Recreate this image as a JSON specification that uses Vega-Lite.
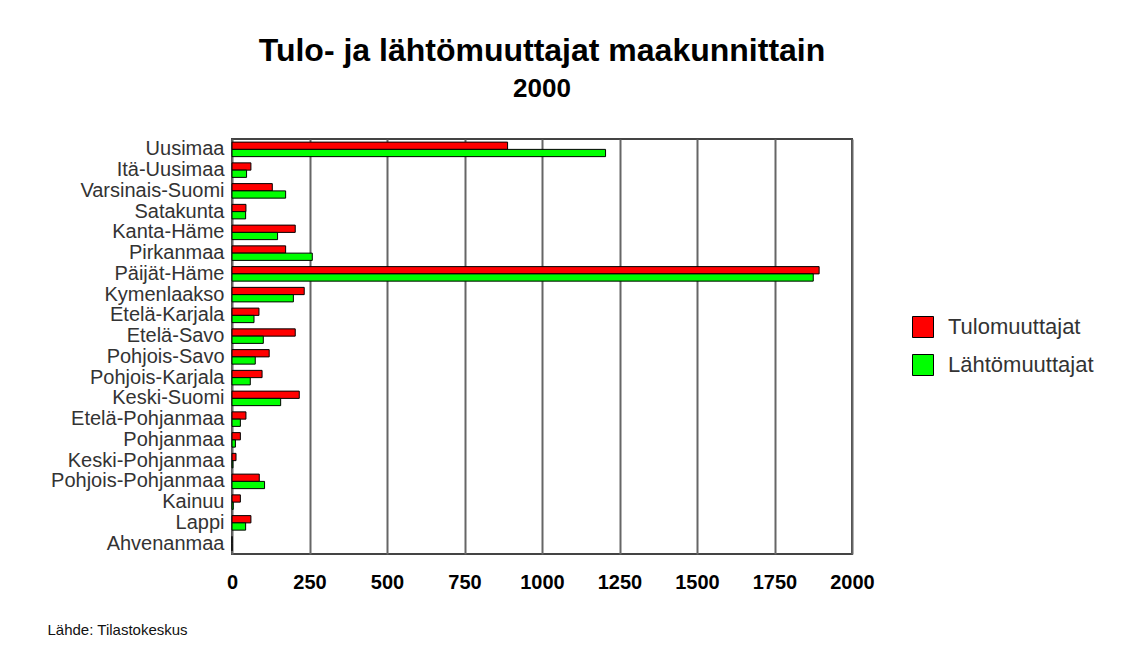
{
  "$schema": "https://vega.github.io/schema/vega-lite/v6.json",
  "width": 620,
  "height": 415,
  "autosize": "none",
  "padding": {"left": 232, "top": 139, "right": 293, "bottom": 99},
  "background": "white",
  "title": {
    "text": "Tulo- ja lähtömuuttajat maakunnittain",
    "subtitle": "2000",
    "anchor": "middle",
    "frame": "group",
    "font": "Liberation Sans",
    "fontSize": 32,
    "fontWeight": "bold",
    "color": "#000",
    "subtitleFont": "Liberation Sans",
    "subtitleFontSize": 26,
    "subtitleFontWeight": "bold",
    "subtitleColor": "#000",
    "subtitlePadding": 8,
    "offset": 36
  },
  "data": {
    "values": [
      {"region": "Uusimaa", "series": "Tulomuuttajat", "value": 889},
      {"region": "Uusimaa", "series": "Lähtömuuttajat", "value": 1205},
      {"region": "Itä-Uusimaa", "series": "Tulomuuttajat", "value": 61},
      {"region": "Itä-Uusimaa", "series": "Lähtömuuttajat", "value": 47},
      {"region": "Varsinais-Suomi", "series": "Tulomuuttajat", "value": 130},
      {"region": "Varsinais-Suomi", "series": "Lähtömuuttajat", "value": 173},
      {"region": "Satakunta", "series": "Tulomuuttajat", "value": 45},
      {"region": "Satakunta", "series": "Lähtömuuttajat", "value": 44},
      {"region": "Kanta-Häme", "series": "Tulomuuttajat", "value": 204},
      {"region": "Kanta-Häme", "series": "Lähtömuuttajat", "value": 147},
      {"region": "Pirkanmaa", "series": "Tulomuuttajat", "value": 173},
      {"region": "Pirkanmaa", "series": "Lähtömuuttajat", "value": 259},
      {"region": "Päijät-Häme", "series": "Tulomuuttajat", "value": 1894},
      {"region": "Päijät-Häme", "series": "Lähtömuuttajat", "value": 1875},
      {"region": "Kymenlaakso", "series": "Tulomuuttajat", "value": 233},
      {"region": "Kymenlaakso", "series": "Lähtömuuttajat", "value": 198},
      {"region": "Etelä-Karjala", "series": "Tulomuuttajat", "value": 87},
      {"region": "Etelä-Karjala", "series": "Lähtömuuttajat", "value": 71},
      {"region": "Etelä-Savo", "series": "Tulomuuttajat", "value": 204},
      {"region": "Etelä-Savo", "series": "Lähtömuuttajat", "value": 101},
      {"region": "Pohjois-Savo", "series": "Tulomuuttajat", "value": 120},
      {"region": "Pohjois-Savo", "series": "Lähtömuuttajat", "value": 75},
      {"region": "Pohjois-Karjala", "series": "Tulomuuttajat", "value": 97},
      {"region": "Pohjois-Karjala", "series": "Lähtömuuttajat", "value": 59},
      {"region": "Keski-Suomi", "series": "Tulomuuttajat", "value": 217},
      {"region": "Keski-Suomi", "series": "Lähtömuuttajat", "value": 157},
      {"region": "Etelä-Pohjanmaa", "series": "Tulomuuttajat", "value": 45},
      {"region": "Etelä-Pohjanmaa", "series": "Lähtömuuttajat", "value": 27},
      {"region": "Pohjanmaa", "series": "Tulomuuttajat", "value": 27},
      {"region": "Pohjanmaa", "series": "Lähtömuuttajat", "value": 11},
      {"region": "Keski-Pohjanmaa", "series": "Tulomuuttajat", "value": 13},
      {"region": "Keski-Pohjanmaa", "series": "Lähtömuuttajat", "value": 3},
      {"region": "Pohjois-Pohjanmaa", "series": "Tulomuuttajat", "value": 88},
      {"region": "Pohjois-Pohjanmaa", "series": "Lähtömuuttajat", "value": 105},
      {"region": "Kainuu", "series": "Tulomuuttajat", "value": 27},
      {"region": "Kainuu", "series": "Lähtömuuttajat", "value": 4},
      {"region": "Lappi", "series": "Tulomuuttajat", "value": 61},
      {"region": "Lappi", "series": "Lähtömuuttajat", "value": 44},
      {"region": "Ahvenanmaa", "series": "Tulomuuttajat", "value": 0},
      {"region": "Ahvenanmaa", "series": "Lähtömuuttajat", "value": 0}
    ]
  },
  "mark": {"type": "bar", "stroke": "#000", "strokeWidth": 1},
  "encoding": {
    "y": {
      "field": "region",
      "type": "nominal",
      "sort": null,
      "scale": {"paddingInner": 0.3, "paddingOuter": 0.15},
      "axis": {
        "title": null,
        "domain": false,
        "ticks": false,
        "labelFont": "Liberation Sans",
        "labelFontSize": 20,
        "labelColor": "#333",
        "labelPadding": 8,
        "labelOverlap": false,
        "labelLimit": 300
      }
    },
    "yOffset": {
      "field": "series",
      "type": "nominal",
      "sort": ["Tulomuuttajat", "Lähtömuuttajat"]
    },
    "x": {
      "field": "value",
      "type": "quantitative",
      "scale": {"domain": [0, 2000], "nice": false},
      "axis": {
        "values": [0, 250, 500, 750, 1000, 1250, 1500, 1750, 2000],
        "format": "d",
        "labelFlush": false,
        "labelOverlap": false,
        "grid": true,
        "gridColor": "#666",
        "gridWidth": 2,
        "gridOpacity": 1,
        "domain": false,
        "ticks": false,
        "labelFont": "Liberation Sans",
        "labelFontSize": 20,
        "labelFontWeight": "bold",
        "labelColor": "#000",
        "labelPadding": 18,
        "title": "Lähde: Tilastokeskus",
        "titleFont": "Liberation Sans",
        "titleFontSize": 15,
        "titleFontWeight": "normal",
        "titleColor": "#111",
        "titleAnchor": "start",
        "titleAlign": "left",
        "titleBaseline": "top",
        "titleX": -185,
        "titleY": 68
      }
    },
    "color": {
      "field": "series",
      "type": "nominal",
      "sort": ["Tulomuuttajat", "Lähtömuuttajat"],
      "scale": {"domain": ["Tulomuuttajat", "Lähtömuuttajat"], "range": ["#ff0000", "#00ff00"]},
      "legend": {
        "title": null,
        "orient": "none",
        "legendX": 680,
        "legendY": 177,
        "symbolType": "square",
        "symbolSize": 441,
        "symbolStrokeColor": "#000",
        "symbolStrokeWidth": 1,
        "symbolOpacity": 1,
        "labelFont": "Liberation Sans",
        "labelFontSize": 22,
        "labelColor": "#333",
        "labelOffset": 14,
        "rowPadding": 12
      }
    }
  },
  "config": {
    "view": {"stroke": "#444", "strokeWidth": 2}
  }
}
